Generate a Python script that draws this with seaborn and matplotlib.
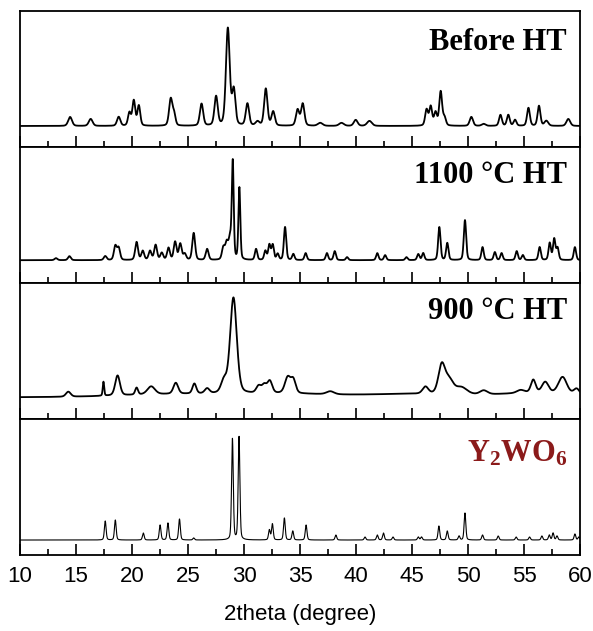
import numpy as np
import pandas as pd
import matplotlib.pyplot as plt
import seaborn as sns

# peak lists (2theta, height above baseline, fwhm)
before_pos = [14.46, 16.3, 18.8, 19.76, 20.15, 20.6, 23.45, 23.75, 26.2, 27.5, 28.55, 29.08,
              30.3, 31.2, 31.94, 32.6, 34.78, 35.24, 36.8, 38.7, 39.97, 41.2, 46.3, 46.67,
              47.1, 47.56, 47.9, 50.3, 51.4, 52.9, 53.6, 54.2, 55.4, 56.34, 57.0, 58.96]
before_h = [9, 7, 9, 13, 25, 20, 27, 11, 22, 29, 97, 35,
            22, 4, 37, 14, 16, 22, 3, 3, 6, 5, 16, 19,
            13, 34, 8, 9, 2, 11, 11, 6, 18, 20, 5, 7]
before_w = [0.4, 0.4, 0.35, 0.3, 0.3, 0.3, 0.35, 0.3, 0.35, 0.35, 0.4, 0.35,
            0.35, 0.4, 0.35, 0.35, 0.35, 0.35, 0.5, 0.5, 0.4, 0.5, 0.3, 0.3,
            0.3, 0.3, 0.3, 0.35, 0.4, 0.3, 0.3, 0.3, 0.3, 0.3, 0.4, 0.4]

hot1100_pos = [13.2, 14.4, 17.6, 18.5, 18.8, 20.4, 20.95, 21.6, 22.1, 22.65, 23.25, 23.84,
               24.3, 24.7, 25.5, 26.7, 28.15, 28.45, 28.75, 28.99, 29.58, 31.07, 31.9, 32.26,
               32.56, 33.0, 33.66, 34.4, 35.5, 37.4, 38.1, 39.2, 41.9, 42.6, 44.5, 45.56,
               46.0, 47.44, 48.15, 49.73, 51.3, 52.4, 53.0, 54.35, 54.9, 56.4, 57.3, 57.7,
               58.0, 59.55]
hot1100_h = [2, 4, 4, 14, 12, 18, 9, 9, 15, 7, 12, 18,
             16, 6, 27, 11, 12, 16, 20, 96, 72, 11, 9, 15,
             15, 6, 33, 6, 7, 7, 9, 3, 7, 5, 3, 6,
             7, 33, 17, 40, 13, 8, 7, 9, 5, 13, 17, 21,
             12, 13]
hot1100_w = [0.3] * 19 + [0.2, 0.2] + [0.25] * 29

hot900_pos = [14.3, 17.44, 18.7, 20.4, 21.7, 23.9, 25.56, 26.7, 28.2, 29.05, 31.3, 31.8,
              32.3, 33.9, 34.4, 37.7, 46.2, 47.65, 48.3, 49.4, 51.4, 54.7, 55.83, 56.9,
              58.45, 59.7, 24.0, 34.0, 45.0, 56.0]
hot900_h = [5, 14, 20, 7, 8, 11, 10, 5, 12, 96, 7, 8,
            12, 16, 13, 3, 7, 28, 14, 7, 4, 3, 13, 11,
            17, 6, 3, 3, 3, 4]
hot900_w = [0.5, 0.15, 0.5, 0.3, 0.8, 0.5, 0.4, 0.5, 0.6, 0.7, 0.5, 0.5,
            0.5, 0.6, 0.5, 0.8, 0.6, 0.7, 0.9, 1.2, 0.8, 0.8, 0.5, 0.7,
            0.9, 0.6, 12.0, 10.0, 10.0, 8.0]

y2wo6_pos = [17.6, 18.5, 21.0, 22.5, 23.2, 24.23, 25.5, 28.96, 29.55, 32.26, 32.53, 33.6,
             34.35, 35.54, 38.2, 40.8, 41.9, 42.45, 43.3, 45.56, 45.85, 47.4, 48.15, 49.2,
             49.73, 51.3, 52.7, 54.3, 55.5, 56.6, 57.26, 57.6, 57.95, 59.55, 59.9]
y2wo6_h = [19, 20, 7, 15, 17, 21, 2, 101, 103, 10, 16, 22,
           9, 15, 5, 3, 5, 7, 3, 3, 3, 14, 9, 4,
           27, 5, 4, 3, 3, 4, 5, 7, 4, 6, 3]
y2wo6_w = [0.18] * 35

panel_names = ['Before HT', '1100 °C HT', '900 °C HT', r'$\mathbf{Y_2WO_6}$']
panel_base = [21, 22.8, 21.6, 15]
panel_peaks = [(before_pos, before_h, before_w),
               (hot1100_pos, hot1100_h, hot1100_w),
               (hot900_pos, hot900_h, hot900_w),
               (y2wo6_pos, y2wo6_h, y2wo6_w)]
label_y = [0.713, 0.737, 0.735, 0.686]
label_color = ['black', 'black', 'black', '#8b1a1a']
line_w = [1.3, 1.3, 1.3, 0.8]

tt = np.linspace(10, 60, 5001)


def profile(pos, h, w, base):
    # pseudo-Voigt sum of the read peaks on a flat baseline
    y = np.full_like(tt, base, dtype=float)
    for p, a, fw in zip(pos, h, w):
        s = fw / 2.3548
        g = np.exp(-0.5 * ((tt - p) / s) ** 2)
        l = 1.0 / (1.0 + ((tt - p) / (fw / 2)) ** 2)
        y += a * (0.7 * g + 0.3 * l)
    return y


sns.set_style('ticks')
plt.rcParams['font.family'] = ['Liberation Sans', 'DejaVu Sans']
plt.rcParams['mathtext.fontset'] = 'custom'
plt.rcParams['mathtext.bf'] = 'Liberation Serif:bold'
plt.rcParams['mathtext.rm'] = 'Liberation Serif:bold'

fig, axes = plt.subplots(4, 1, figsize=(5.93, 6.31), dpi=100, sharex=True)
fig.subplots_adjust(left=0.034, right=0.978, top=0.9826, bottom=0.1204, hspace=0)

for i, ax in enumerate(axes):
    pos, h, w = panel_peaks[i]
    df = pd.DataFrame({'2theta': tt, 'intensity': profile(pos, h, w, panel_base[i])})
    sns.lineplot(data=df, x='2theta', y='intensity', ax=ax, color='black',
                 linewidth=line_w[i], estimator=None, sort=False)
    ax.set_xlim(10, 60)
    ax.set_ylim(0, 136)
    ax.set_yticks([])
    ax.set_ylabel('')
    ax.set_xlabel('')
    ax.set_xticks(np.arange(10, 61, 5))
    ax.set_xticks(np.arange(12.5, 60, 5), minor=True)
    ax.tick_params(axis='x', which='major', direction='in', length=8, width=1.2,
                   top=False, labelsize=16, pad=8, colors='black')
    ax.tick_params(axis='x', which='minor', direction='in', length=4, width=1.2,
                   top=False, colors='black')
    for sp in ax.spines.values():
        sp.set_visible(True)
        sp.set_linewidth(1.3)
        sp.set_color('black')
    ax.text(0.977, label_y[i], panel_names[i], transform=ax.transAxes, ha='right',
            va='baseline', fontsize=22, fontweight='bold', family='Liberation Serif',
            color=label_color[i])
    if i < 3:
        ax.tick_params(axis='x', labelbottom=False)

axes[-1].set_xlabel('2theta (degree)', fontsize=16, labelpad=12, color='black')

plt.savefig('out.png', dpi=100)
